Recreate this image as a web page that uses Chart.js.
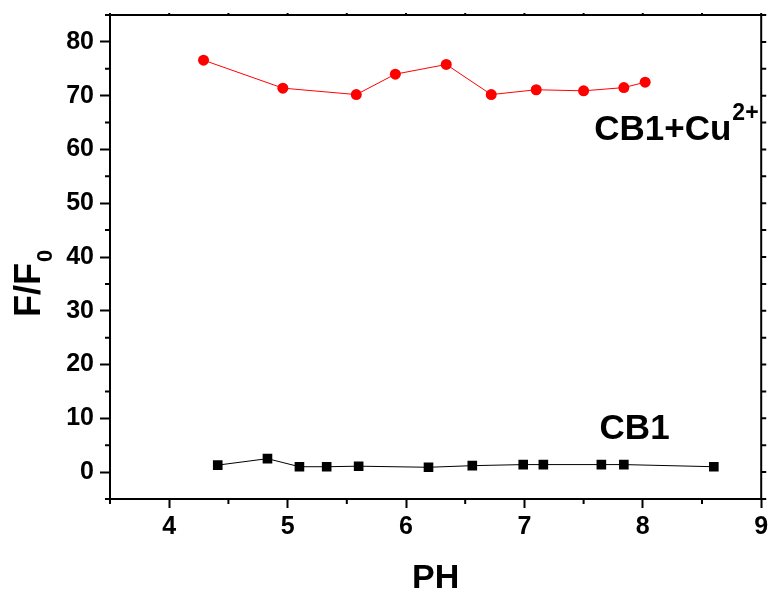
<!DOCTYPE html>
<html>
<head>
<meta charset="utf-8">
<script src="https://cdn.jsdelivr.net/npm/chart.js@4.4.1/dist/chart.umd.min.js"></script>
<style>
  body { margin: 0; background: #fff; }
  #wrap { width: 768px; height: 594px; position: relative; }
</style>
</head>
<body>
<div id="wrap"><canvas id="phChart"></canvas></div>
<script>
// values
const cuPh = [4.29, 4.96, 5.58, 5.91, 6.34, 6.72, 7.10, 7.50, 7.84, 8.02];
const cuRatio = [76.6, 71.4, 70.2, 74.0, 75.8, 70.2, 71.1, 70.9, 71.5, 72.5];
const cb1Ph = [4.41, 4.83, 5.10, 5.33, 5.60, 6.19, 6.56, 6.99, 7.16, 7.65, 7.84, 8.60];
const cb1Ratio = [1.3, 2.5, 1.0, 1.0, 1.1, 0.9, 1.2, 1.4, 1.4, 1.4, 1.4, 1.0];

const xTicks = [4, 5, 6, 7, 8, 9];
const xMinor = [3.5, 4.5, 5.5, 6.5, 7.5, 8.5];
const yTicks = [0, 10, 20, 30, 40, 50, 60, 70, 80];
const yMinor = [-5, 5, 15, 25, 35, 45, 55, 65, 75, 85];

const fontFamily = '"Liberation Sans", Arial, sans-serif';

function toPoints(xs, ys) {
  return xs.map((v, i) => ({ x: v, y: ys[i] }));
}

// frame, minor ticks, titles and labels
const decorations = {
  id: "decorations",
  afterDraw(chart) {
    const { ctx, chartArea: a, scales } = chart;
    const x = scales.x;
    const y = scales.y;
    ctx.save();
    ctx.strokeStyle = "#000";
    ctx.lineWidth = 2;
    ctx.beginPath();
    ctx.moveTo(a.left - 1, a.top);
    ctx.lineTo(a.right, a.top);
    ctx.lineTo(a.right, a.bottom + 1);
    ctx.stroke();

    ctx.beginPath();
    xMinor.forEach((v) => {
      const px = x.getPixelForValue(v);
      ctx.moveTo(px, a.bottom);
      ctx.lineTo(px, a.bottom + 5);
    });
    yMinor.forEach((v) => {
      const py = y.getPixelForValue(v);
      ctx.moveTo(a.left, py);
      ctx.lineTo(a.left - 5, py);
    });
    // mirrored ticks on the right and top
    yTicks.concat(yMinor).forEach((v) => {
      const py = y.getPixelForValue(v);
      ctx.moveTo(a.right, py);
      ctx.lineTo(a.right + 5, py);
    });
    xTicks.concat(xMinor).forEach((v) => {
      const px = x.getPixelForValue(v);
      ctx.moveTo(px, a.top);
      ctx.lineTo(px, a.top - 2);
    });
    ctx.stroke();

    ctx.fillStyle = "#000";
    ctx.textBaseline = "alphabetic";

    // x title
    ctx.font = "bold 34px " + fontFamily;
    ctx.textAlign = "center";
    ctx.fillText("PH", (a.left + a.right) / 2, 588);

    // y title F/F0
    ctx.save();
    ctx.translate(40, 317);
    ctx.rotate(-Math.PI / 2);
    ctx.textAlign = "left";
    ctx.font = "bold 36px " + fontFamily;
    ctx.fillText("F/F", 0, 0);
    const w = ctx.measureText("F/F").width;
    ctx.font = "bold 22px " + fontFamily;
    ctx.fillText("0", w + 1, 12);
    ctx.restore();

    // series labels
    ctx.textAlign = "left";
    ctx.font = "bold 35px " + fontFamily;
    const lx = x.getPixelForValue(7.59);
    const ly = y.getPixelForValue(61.8);
    ctx.fillText("CB1+Cu", lx, ly);
    const cw = ctx.measureText("CB1+Cu").width;
    ctx.font = "bold 23px " + fontFamily;
    ctx.fillText("2+", lx + cw + 1, ly - 20);

    ctx.font = "bold 35px " + fontFamily;
    ctx.fillText("CB1", x.getPixelForValue(7.635), y.getPixelForValue(6.1));
    ctx.restore();
  },
};

const ctx = document.getElementById("phChart").getContext("2d");

new Chart(ctx, {
  type: "scatter",
  data: {
    datasets: [
      {
        label: "CB1+Cu2+",
        data: toPoints(cuPh, cuRatio),
        showLine: true,
        borderColor: "#ff0000",
        backgroundColor: "#ff0000",
        borderWidth: 1,
        pointStyle: "circle",
        pointRadius: 5.5,
        pointBorderWidth: 0,
      },
      {
        label: "CB1",
        data: toPoints(cb1Ph, cb1Ratio),
        showLine: true,
        borderColor: "#000000",
        backgroundColor: "#000000",
        borderWidth: 1,
        pointStyle: "rect",
        pointRadius: 6.8,
        pointBorderWidth: 0,
      },
    ],
  },
  plugins: [decorations],
  options: {
    responsive: true,
    maintainAspectRatio: false,
    animation: false,
    layout: { padding: { top: 15, right: 6, left: 0, bottom: 0 } },
    plugins: {
      legend: { display: false },
      tooltip: { enabled: false },
    },
    scales: {
      x: {
        type: "linear",
        min: 3.5,
        max: 9,
        afterBuildTicks: (scale) => {
          scale.ticks = xTicks.map((v) => ({ value: v }));
        },
        afterFit: (scale) => {
          scale.height = 95;
          scale.paddingLeft = 0;
          scale.paddingRight = 0;
        },
        border: { display: true, color: "#000", width: 2 },
        grid: {
          drawOnChartArea: false,
          tickLength: 9,
          tickWidth: 2,
          tickColor: "#000",
        },
        ticks: {
          color: "#000",
          padding: 4,
          maxRotation: 0,
          font: { family: fontFamily, size: 25, weight: "bold" },
        },
      },
      y: {
        type: "linear",
        min: -5,
        max: 85,
        afterBuildTicks: (scale) => {
          scale.ticks = yTicks.map((v) => ({ value: v }));
        },
        afterFit: (scale) => {
          scale.width = 110;
          scale.paddingTop = 0;
          scale.paddingBottom = 0;
        },
        border: { display: true, color: "#000", width: 2 },
        grid: {
          drawOnChartArea: false,
          tickLength: 10,
          tickWidth: 2,
          tickColor: "#000",
        },
        ticks: {
          color: "#000",
          padding: 6,
          font: { family: fontFamily, size: 25, weight: "bold" },
        },
      },
    },
  },
});
</script>
</body>
</html>
